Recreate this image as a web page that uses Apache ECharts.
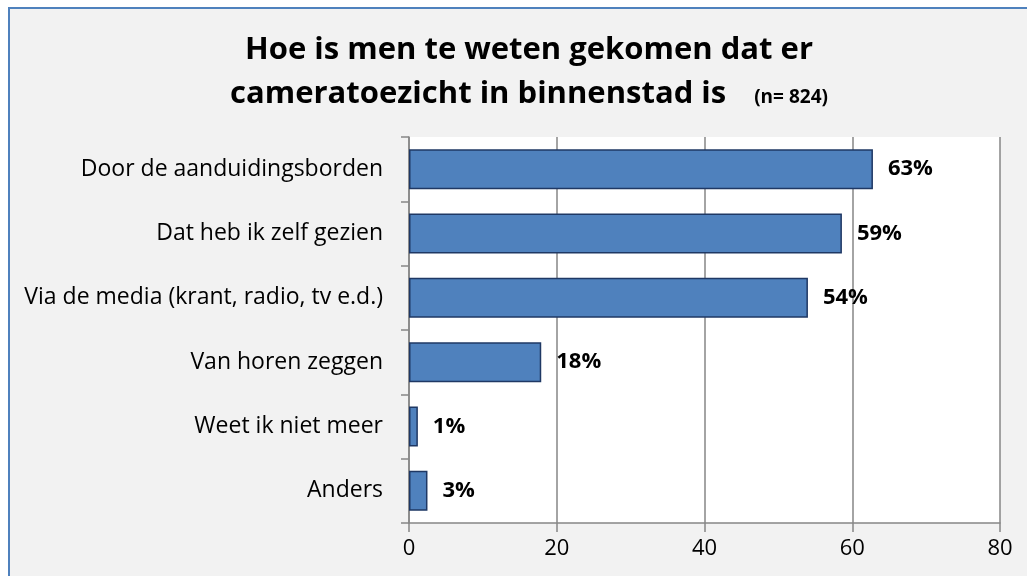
<!DOCTYPE html>
<html>
<head>
<meta charset="utf-8">
<script src="https://cdn.jsdelivr.net/npm/echarts@6/dist/echarts.min.js"></script>
<style>
  body { margin: 0; background: #ffffff; }
  #frame {
    position: absolute; left: 8px; top: 7px; right: 0; bottom: 0;
    border-left: 2px solid #4f81bd; border-top: 2px solid #4f81bd;
    background: #f2f2f2;
  }
  #chart { position: absolute; left: 0; top: 0; width: 1027px; height: 576px; }
</style>
</head>
<body>
<div id="frame"></div>
<div id="chart"></div>
<script>
// antwoorden, van boven naar beneden
const categories = [
  "Door de aanduidingsborden",
  "Dat heb ik zelf gezien",
  "Via de media (krant, radio, tv e.d.)",
  "Van horen zeggen",
  "Weet ik niet meer",
  "Anders"
];
const values = [62.8, 58.6, 54.0, 17.9, 1.2, 2.5];
const valueLabels = ["63%", "59%", "54%", "18%", "1%", "3%"];
const xTicks = [0, 20, 40, 60, 80];

const font = "Open Sans";
const chart = echarts.init(document.getElementById("chart"));

chart.setOption({
  animation: false,
  textStyle: { fontFamily: font },
  title: [
    {
      text: "Hoe is men te weten gekomen dat er",
      left: 524, top: 30, textAlign: "center",
      textStyle: { fontFamily: font, fontSize: 31, fontWeight: "bold", color: "#000" }
    },
    {
      text: "{a|cameratoezicht in binnenstad is}{b|(n= 824)}",
      left: 524, top: 74, textAlign: "center",
      textStyle: {
        rich: {
          a: { fontFamily: font, fontSize: 31, fontWeight: "bold", color: "#000" },
          b: { fontFamily: font, fontSize: 19, fontWeight: "bold", color: "#000", padding: [6, 0, 0, 28] }
        }
      }
    }
  ],
  grid: {
    left: 409, right: 27, top: 137, bottom: 53,
    show: true, backgroundColor: "#ffffff", borderWidth: 0
  },
  xAxis: {
    type: "value",
    min: xTicks[0], max: xTicks[xTicks.length - 1], interval: 20,
    axisLine: { show: true, lineStyle: { color: "#868686", width: 1.5 } },
    axisTick: { show: true, length: 9, lineStyle: { color: "#868686", width: 1.5 } },
    axisLabel: { color: "#000", fontSize: 22, margin: 15 },
    splitLine: { show: true, lineStyle: { color: "#868686", width: 1.5 } }
  },
  yAxis: {
    type: "category",
    inverse: true,
    data: categories,
    axisLine: { show: true, lineStyle: { color: "#868686", width: 1.5 } },
    axisTick: { show: true, length: 8, lineStyle: { color: "#868686", width: 1.5 } },
    axisLabel: { color: "#000", fontSize: 23, margin: 26 }
  },
  series: [
    {
      type: "bar",
      data: values,
      barWidth: 40,
      itemStyle: { color: "#4f81bd", borderColor: "#1f3864", borderWidth: 1.5 },
      label: {
        show: true,
        position: "right",
        distance: 15,
        color: "#000",
        fontSize: 22,
        fontWeight: "bold",
        formatter: (p) => valueLabels[p.dataIndex]
      }
    }
  ]
});
</script>
</body>
</html>
